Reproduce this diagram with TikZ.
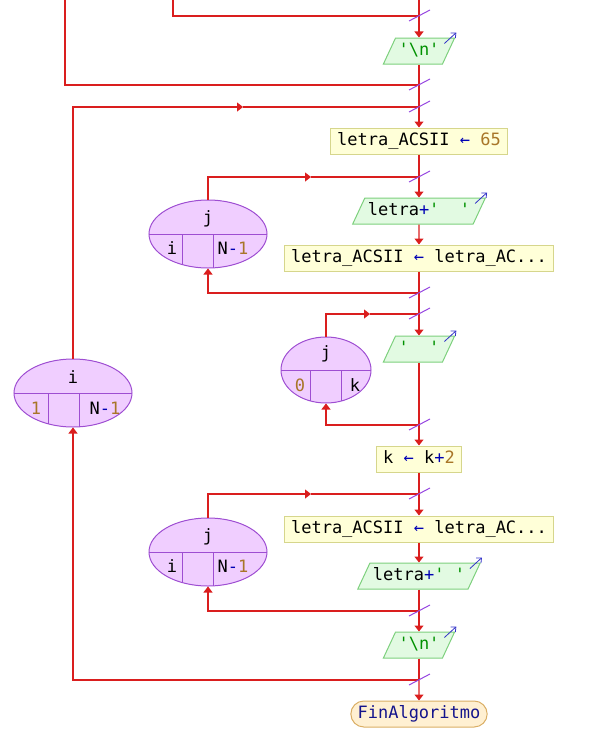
\documentclass[tikz,border=0pt]{standalone}
\usepackage{fontspec}
\newfontfamily\psmono{DejaVu Sans Mono}
\usepackage{xcolor}
\usetikzlibrary{arrows.meta, calc, shapes.geometric, shapes.misc}

\definecolor{flowred}{RGB}{218,30,30}
\definecolor{slashpurple}{RGB}{150,70,225}
\definecolor{asgfill}{RGB}{255,255,216}
\definecolor{asgdraw}{RGB}{214,214,140}
\definecolor{outfill}{RGB}{226,250,226}
\definecolor{outdraw}{RGB}{125,208,125}
\definecolor{loopfill}{RGB}{240,206,255}
\definecolor{loopdraw}{RGB}{158,78,210}
\definecolor{endfill}{RGB}{255,240,210}
\definecolor{enddraw}{RGB}{218,174,100}
\definecolor{endtext}{RGB}{20,20,140}
\definecolor{opblue}{RGB}{0,0,180}
\definecolor{numbrown}{RGB}{168,118,40}
\definecolor{strgreen}{RGB}{0,145,0}
\definecolor{markblue}{RGB}{50,50,200}

\newcommand{\pop}[1]{\textcolor{opblue}{#1}}
\newcommand{\pnum}[1]{\textcolor{numbrown}{#1}}
\newcommand{\pstr}[1]{\textcolor{strgreen}{#1}}

\begin{document}
\begin{tikzpicture}[x=1pt, y=-1pt, font=\psmono\fontsize{17}{20}\selectfont,
  link/.style={draw=flowred, line width=1.1pt},
  flow/.style={link, -{Triangle[width=9pt,length=6pt]}},
  slashmark/.style={draw=slashpurple, line width=1pt},
  outmark/.style={draw=markblue, line width=0.8pt, -{Straight Barb[length=4pt,width=7pt]}},
  boxtext/.style={text height=12.5pt, text depth=3.5pt, inner ysep=5pt},
  asgbox/.style={rectangle, draw=asgdraw, fill=asgfill, line width=1pt,
    boxtext, inner xsep=7pt},
  outbox/.style={trapezium, trapezium left angle=65, trapezium right angle=115,
    draw=outdraw, fill=outfill, line width=1pt, boxtext, inner xsep=3pt},
  endbox/.style={rounded rectangle, draw=enddraw, fill=endfill, line width=1pt,
    boxtext, inner xsep=4pt, text=endtext},
  loopnode/.style 2 args={ellipse, draw=loopdraw, fill=loopfill, line width=1pt,
    minimum width=118, minimum height=68, inner sep=0pt,
    path picture={
      \draw[loopdraw, line width=1pt] (path picture bounding box.west) -- (path picture bounding box.east);
      \draw[loopdraw, line width=1pt] ([xshift=#1]path picture bounding box.center) -- ([xshift=#1]path picture bounding box.south);
      \draw[loopdraw, line width=1pt] ([xshift=#2]path picture bounding box.center) -- ([xshift=#2]path picture bounding box.south);
    }}]
  \useasboundingbox (0,0) rectangle (596,750);

  \coordinate (top) at (419,0);
  \coordinate (prevA) at (173,0);
  \coordinate (prevB) at (65,0);
  \coordinate (j1) at (419,16);
  \coordinate (j2) at (419,85);
  \coordinate (j3) at (419,107);
  \coordinate (j4) at (419,177);
  \coordinate (j5) at (419,293);
  \coordinate (j6) at (419,314);
  \coordinate (j7) at (419,425);
  \coordinate (j8) at (419,494);
  \coordinate (j9) at (419,611);
  \coordinate (j10) at (419,680);
  \coordinate (m1) at (243,107);
  \coordinate (m2) at (311,177);
  \coordinate (m3) at (370,314);
  \coordinate (m4) at (311,494);

  \node[outbox] (o1) at (419,51) {\pstr{'\textbackslash n'}};
  \node[asgbox] (a1) at (419,141) {letra\_ACSII \pop{←} \pnum{65}};
  \node[outbox] (o2) at (419,211) {letra\pop{+}\pstr{'~~'}};
  \node[asgbox] (a2) at (419,258) {letra\_ACSII \pop{←} letra\_AC...};
  \node[outbox] (o3) at (419,349) {\pstr{'~~'}};
  \node[asgbox] (a3) at (419,459) {k \pop{←} k\pop{+}\pnum{2}};
  \node[asgbox] (a4) at (419,529) {letra\_ACSII \pop{←} letra\_AC...};
  \node[outbox] (o4) at (419,576) {letra\pop{+}\pstr{'~'}};
  \node[outbox] (o5) at (419,645) {\pstr{'\textbackslash n'}};
  \node[endbox] (fin) at (419,714) {FinAlgoritmo};

  \node[loopnode={-25}{6}] (li) at (73,393) {};
  \node (li-var) at ([shift={(0,-16)}]li.center) {i};
  \node (li-from) at ([shift={(-37,15)}]li.center) {\pnum{1}};
  \node (li-to) at ([shift={(32,15)}]li.center) {N\pop{-}\pnum{1}};

  \node[loopnode={-26}{5}] (lj1) at (208,234) {};
  \node (lj1-var) at ([shift={(0,-15)}]lj1.center) {j};
  \node (lj1-from) at ([shift={(-36,14)}]lj1.center) {i};
  \node (lj1-to) at ([shift={(25,14)}]lj1.center) {N\pop{-}\pnum{1}};

  \node[loopnode={-16}{15}, minimum width=90, minimum height=66] (lj2) at (326,370) {};
  \node (lj2-var) at ([shift={(0,-16)}]lj2.center) {j};
  \node (lj2-from) at ([shift={(-26,15)}]lj2.center) {\pnum{0}};
  \node (lj2-to) at ([shift={(29,15)}]lj2.center) {k};

  \node[loopnode={-26}{5}] (lj3) at (208,552) {};
  \node (lj3-var) at ([shift={(0,-15)}]lj3.center) {j};
  \node (lj3-from) at ([shift={(-36,14)}]lj3.center) {i};
  \node (lj3-to) at ([shift={(25,14)}]lj3.center) {N\pop{-}\pnum{1}};

  \draw[link] (prevA) |- (j1);
  \draw[link] (prevB) |- (j2);
  \draw[flow] (top) -- (o1);
  \draw[link] (o1) -- (j3);
  \draw[flow] (j3) -- (a1);
  \draw[flow] (li) |- (m1);
  \draw[link] (m1) -- (j3);
  \draw[link] (a1) -- (j4);
  \draw[flow] (j4) -- (o2);
  \draw[flow] (lj1) |- (m2);
  \draw[link] (m2) -- (j4);
  \draw[flow] (o2) -- (a2);
  \draw[flow] (j5) -| (lj1);
  \draw[link] (a2) -- (j6);
  \draw[flow] (j6) -- (o3);
  \draw[flow] (lj2) |- (m3);
  \draw[link] (m3) -- (j6);
  \draw[link] (o3) -- (j7);
  \draw[flow] (j7) -- (a3);
  \draw[flow] (j7) -| (lj2);
  \draw[link] (a3) -- (j8);
  \draw[flow] (j8) -- (a4);
  \draw[flow] (lj3) |- (m4);
  \draw[link] (m4) -- (j8);
  \draw[flow] (a4) -- (o4);
  \draw[link] (o4) -- (j9);
  \draw[flow] (j9) -- (o5);
  \draw[flow] (j9) -| (lj3);
  \draw[link] (o5) -- (j10);
  \draw[flow] (j10) -- (fin);
  \draw[flow] (j10) -| (li);

  \foreach \c in {j1,j2,j3,j4,j5,j6,j7,j8,j9,j10}
    \draw[slashmark] ([shift={(-10,5)}]\c) -- ([shift={(11,-6)}]\c);
  \foreach \o in {o1,o2,o3,o4,o5}
    \draw[outmark] ([shift={(-11,6)}]\o.top right corner) -- ([shift={(1,-5)}]\o.top right corner);
\end{tikzpicture}
\end{document}
